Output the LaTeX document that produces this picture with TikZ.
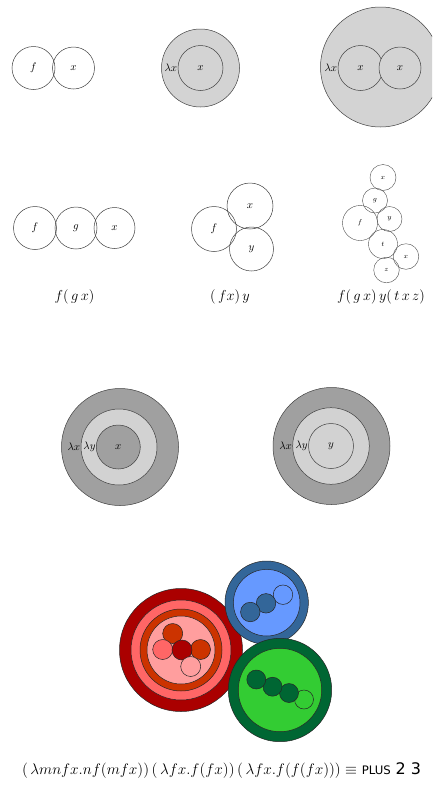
\documentclass[tikz,border=0pt]{standalone}
\usepackage{fontspec}
\usepackage{graphicx}
\newfontfamily\plusfont{DejaVu Sans}
\definecolor{gTop}{HTML}{D3D3D3}
\definecolor{gDark}{HTML}{A0A0A0}
\definecolor{gLight}{HTML}{D2D2D2}
\definecolor{rDark}{HTML}{AA0000}
\definecolor{rPink}{HTML}{FF6666}
\definecolor{rOrange}{HTML}{CC3300}
\definecolor{rLight}{HTML}{FF9E9E}
\definecolor{bDark}{HTML}{336699}
\definecolor{bLight}{HTML}{6699FF}
\definecolor{grDark}{HTML}{006633}
\definecolor{grLight}{HTML}{33CC33}
\tikzset{
  bub/.style={circle, draw=black!75, line width=0.5pt, inner sep=0pt, minimum size=#1,
    font=\fontsize{11}{13}\selectfont},
  sbub/.style={circle, draw=black!70, line width=0.4pt, inner sep=0pt, minimum size=#1,
    font=\fontsize{7.5}{9}\selectfont},
  cb/.style={circle, draw=black!85, line width=0.5pt, inner sep=0pt, minimum size=#1},
  lam/.style={inner sep=0.3pt, anchor=east, font=\fontsize{11}{13}\selectfont},
  caption/.style={inner sep=0pt, font=\fontsize{15}{17}\selectfont},
}
\begin{document}
\begin{tikzpicture}[x=1pt,y=-1pt]
\useasboundingbox (0,0) rectangle (432,788);
\clip (0,0) rectangle (432,788);
% row 1
\node[bub=43pt] (r1f) at (33.5,68) {$f$};
\node[bub=42pt] (r1x) at (73.5,68) {$x$};
\node[bub=78pt, fill=gTop] (r2o) at (200.5,68) {};
\node[bub=45pt, fill=gTop] (r2i) at (200.5,68) {$x$};
\node[lam] (r2l) at (r2i.west) {$\lambda x$};
\node[bub=120pt, fill=gTop] (r3o) at (380.5,67) {};
\node[bub=45pt, fill=gTop] (r3a) at (360.5,68) {$x$};
\node[bub=42pt, fill=gTop] (r3b) at (400,68) {$x$};
\node[lam] (r3l) at (r3a.west) {$\lambda x$};
% row 2
\node[bub=43pt] (s1f) at (35,228) {$f$};
\node[bub=42pt] (s1g) at (76,228) {$g$};
\node[bub=41pt] (s1x) at (114.5,228) {$x$};
\node[bub=45pt] (s2f) at (214,229) {$f$};
\node[bub=46pt] (s2x) at (250,206) {$x$};
\node[bub=44pt] (s2y) at (251.5,249) {$y$};
\node[sbub=26pt] (s3x) at (383,177.5) {$x$};
\node[sbub=25pt] (s3g) at (375,200.5) {$g$};
\node[sbub=35pt] (s3f) at (360,223) {$f$};
\node[sbub=25pt] (s3y) at (389.5,219) {$y$};
\node[sbub=29pt] (s3t) at (383,244) {$t$};
\node[sbub=25.6pt] (s3x2) at (406,256.5) {$x$};
\node[sbub=25.6pt] (s3z) at (386.5,270) {$z$};
\node[caption] (c1) at (74.5,297) {$f(\,g\,x)$};
\node[caption] (c2) at (230,297) {$(\,f x)\,y$};
\node[caption] (c3) at (381,297) {$f(\,g\,x)\,y(\,t\,x\,z)$};
% row 3
\node[bub=117pt, fill=gDark] (u1o) at (120,447) {};
\node[bub=76pt, fill=gLight] (u1m) at (119,447) {};
\node[bub=44pt, fill=gDark] (u1i) at (118.3,447) {$x$};
\node[lam] (u1ly) at (u1i.west) {$\lambda y$};
\node[lam] (u1lx) at (u1m.west) {$\lambda x$};
\node[bub=117pt, fill=gDark] (u2o) at (331.5,446) {};
\node[bub=76.6pt, fill=gLight] (u2m) at (331,446) {};
\node[bub=45pt, fill=gLight] (u2i) at (331,446) {$y$};
\node[lam] (u2ly) at (u2i.west) {$\lambda y$};
\node[lam] (u2lx) at (u2m.west) {$\lambda x$};
% row 4: red
\node[cb=123pt, fill=rDark] (ra) at (181,650) {};
\node[cb=100pt, fill=rPink] (rb) at (181,650) {};
\node[cb=82pt, fill=rOrange] (rc) at (181,650) {};
\node[cb=68pt, fill=rLight] (rd) at (181,650) {};
\node[cb=20pt, fill=rOrange] (re1) at (172.7,633.5) {};
\node[cb=20pt, fill=rPink] (re2) at (162.7,649.5) {};
\node[cb=20pt, fill=rOrange] (re4) at (200.5,649.5) {};
\node[cb=20pt, fill=rDark] (re3) at (182,650) {};
\node[cb=20pt, fill=rLight] (re5) at (190.7,666.5) {};
% blue
\node[cb=83.4pt, fill=bDark] (ba) at (266.7,602.7) {};
\node[cb=66.6pt, fill=bLight] (bb) at (266.7,602.7) {};
\node[cb=19.5pt, fill=bLight] (bc3) at (283,594.7) {};
\node[cb=19.5pt, fill=bDark] (bc2) at (266,603.3) {};
\node[cb=19.5pt, fill=bDark] (bc1) at (250.3,612) {};
% green
\node[cb=103.4pt, fill=grDark] (ga) at (280,690) {};
\node[cb=83.4pt, fill=grLight] (gb) at (280,690) {};
\node[cb=19pt, fill=grLight] (gc4) at (304,699.5) {};
\node[cb=19pt, fill=grDark] (gc3) at (289,693) {};
\node[cb=19pt, fill=grDark] (gc2) at (272.5,686.7) {};
\node[cb=19pt, fill=grDark] (gc1) at (256.3,679.5) {};
% formula
\node[inner sep=0pt, font=\fontsize{15}{17}\selectfont] (formula) at (221.5,770)
  {\resizebox{399pt}{!}{$(\,\lambda mnfx.nf(mfx))\,(\,\lambda fx.f(fx))\,(\,\lambda fx.f(f(fx)))\equiv$ {\plusfont\fontsize{11}{13}\selectfont PLUS}\ {\plusfont 2 3}}};
\end{tikzpicture}
\end{document}
